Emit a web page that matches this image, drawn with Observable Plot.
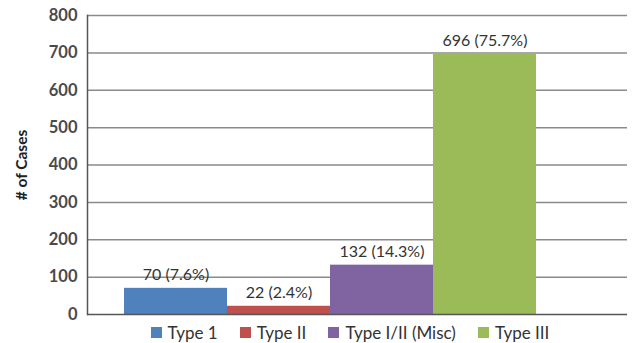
<!DOCTYPE html>
<html>
<head>
<meta charset="utf-8">
<script src="https://cdn.jsdelivr.net/npm/d3@7"></script>
<script src="https://cdn.jsdelivr.net/npm/@observablehq/plot@0.6"></script>
<style>
  html, body { margin: 0; padding: 0; background: #fff; }
  body { width: 634px; height: 343px; overflow: hidden; font-family: Lato, "Open Sans", sans-serif; }
  #chart svg { display: block; }
  #legend { display: flex; justify-content: center; gap: 22px; font-size: 17px; color: #333; width: 634px; margin-left: 33px; height: 13px; line-height: 13px; align-items: center; }
  #legend span.item { display: inline-flex; align-items: center; gap: 6px; white-space: nowrap; }
  #legend i { display: inline-block; width: 11px; height: 11px; }
</style>
</head>
<body>
<div id="chart"></div>
<div id="legend"></div>
<script>
const categories = ["Type 1", "Type II", "Type I/II (Misc)", "Type III"];
const cases = [70, 22, 132, 696];
const percents = [7.6, 2.4, 14.3, 75.7];
const colors = ["#4F81BD", "#C0504D", "#8064A2", "#9BBB59"];
const yTicks = [0, 100, 200, 300, 400, 500, 600, 700, 800];

const data = categories.map((c, i) => ({
  type: c, value: cases[i], label: `${cases[i]} (${percents[i]}%)`
}));

const plot = Plot.plot({
  width: 634,
  height: 326,
  marginLeft: 87,
  marginRight: 7,
  marginTop: 15,
  marginBottom: 12,
  style: { fontFamily: "Lato, 'Open Sans', sans-serif", background: "#fff" },
  x: { domain: categories, range: [123, 537], padding: 0, axis: null },
  y: { domain: [0, 800], ticks: yTicks, label: null },
  color: { domain: categories, range: colors },
  marks: [
    Plot.ruleY(yTicks.filter(d => d > 0), { stroke: "#8a8a8a", strokeWidth: 1.5 }),
    Plot.barY(data, { x: "type", y: "value", fill: "type" }),
    Plot.text(data, { x: "type", y: "value", text: "label", lineAnchor: "bottom", dy: -8, fontSize: 16, fill: "#333" }),
    Plot.ruleY([0], { stroke: "#555", strokeWidth: 1.5 }),
    Plot.axisY({ ticks: yTicks, tickSize: 0, tickPadding: 10, fontSize: 16.5, fontWeight: "bold", fill: "#4a4a4a", label: null }),
    Plot.frame({ anchor: "left", stroke: "#555", strokeWidth: 1.5 }),
    Plot.text(["# of Cases"], { frameAnchor: "left", textAnchor: "middle", dx: -65, rotate: -90, fontSize: 15.5, fontWeight: "bold", fill: "#222" })
  ]
});
document.getElementById("chart").appendChild(plot);

const legend = document.getElementById("legend");
categories.forEach((c, i) => {
  const s = document.createElement("span");
  s.className = "item";
  s.innerHTML = `<i style="background:${colors[i]}"></i>${c}`;
  legend.appendChild(s);
});
</script>
</body>
</html>
